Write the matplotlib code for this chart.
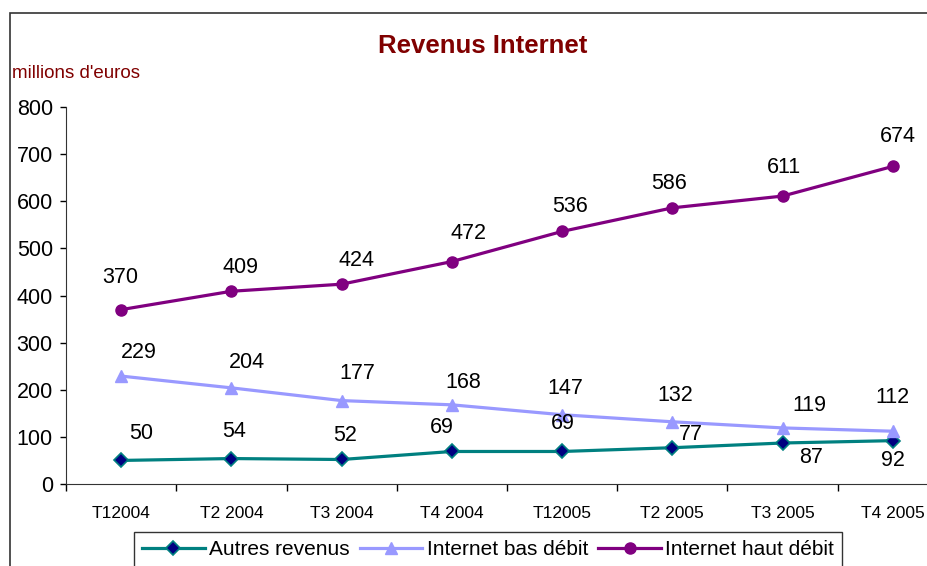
import matplotlib.pyplot as plt
from matplotlib.patches import Rectangle

plt.rcParams['font.family'] = ['Liberation Sans', 'DejaVu Sans']

quarters = ['T12004', 'T2 2004', 'T3 2004', 'T4 2004', 'T12005', 'T2 2005', 'T3 2005', 'T4 2005']
autres = [50, 54, 52, 69, 69, 77, 87, 92]
bas_debit = [229, 204, 177, 168, 147, 132, 119, 112]
haut_debit = [370, 409, 424, 472, 536, 586, 611, 674]

# label offsets in pixels (dx, dy) for each point
off_autres = [(20, 27), (3, 27), (3, 24), (-10, 24), (1, 28), (19, 13), (28, -14), (0, -20)]
off_bas = [(18, 24), (16, 25), (16, 27), (11, 22), (3, 26), (3, 26), (27, 22), (0, 34)]
off_haut = [(-1, 32), (9, 24), (15, 24), (17, 28), (8, 25), (-3, 24), (1, 29), (5, 30)]

fig = plt.figure(figsize=(9.28, 5.66), dpi=100)
ax = fig.add_axes([66 / 928, 1 - 484 / 566, 882 / 928, (484 - 107) / 566])

x = list(range(len(quarters)))
l1, = ax.plot(x, autres, color='#008080', lw=2.3, marker='D', ms=7,
              markerfacecolor='#000080', markeredgecolor='#008080', markeredgewidth=1.2)
l2, = ax.plot(x, bas_debit, color='#9999FF', lw=2.3, marker='^', ms=9,
              markerfacecolor='#9999FF', markeredgecolor='#9999FF')
l3, = ax.plot(x, haut_debit, color='#800080', lw=2.3, marker='o', ms=8,
              markerfacecolor='#800080', markeredgecolor='#800080')

for vals, offs in [(autres, off_autres), (bas_debit, off_bas), (haut_debit, off_haut)]:
    for xi, v, (dx, dy) in zip(x, vals, offs):
        ax.annotate(str(v), (xi, v), xytext=(dx, dy), textcoords='offset pixels',
                    ha='center', va='center', fontsize=15.5)

ax.set_xlim(-0.5, 7.5)
ax.set_ylim(0, 800)
ax.set_yticks(range(0, 801, 100))
ax.tick_params(axis='y', labelsize=15.5, length=4.5, width=1, direction='out', pad=5)
ax.set_xticks(x)
ax.set_xticklabels(quarters, fontsize=12.5)
ax.tick_params(axis='x', length=0, pad=16)
ax.set_xticks([i - 0.5 for i in range(len(quarters) + 1)], minor=True)
ax.tick_params(axis='x', which='minor', length=5, width=1, direction='out')
for s in ['top', 'right']:
    ax.spines[s].set_visible(False)
ax.spines['left'].set_color('#333333')
ax.spines['bottom'].set_color('#333333')

fig.text(483 / 928, 1 - 46 / 566, 'Revenus Internet', ha='center', va='center',
         fontsize=18.5, fontweight='bold', color='#800000')
fig.text(12 / 928, 1 - 74 / 566, "millions d'euros", ha='left', va='center',
         fontsize=13.5, color='#800000')

fig.legend([l1, l2, l3], ['Autres revenus', 'Internet bas débit', 'Internet haut débit'],
           loc='upper center', bbox_to_anchor=(488 / 928, 1 - 532 / 566), ncol=3, fontsize=15,
           frameon=True, fancybox=False, edgecolor='black', handlelength=3.0,
           handletextpad=0.2, columnspacing=0.5, borderpad=0.4, borderaxespad=0)

fig.patches.append(Rectangle((10 / 928, -0.1), 1.0, 1 - 13 / 566 + 0.1,
                             transform=fig.transFigure, fill=False,
                             edgecolor='#333333', lw=1.2))

fig.savefig('out.png', dpi=100)
